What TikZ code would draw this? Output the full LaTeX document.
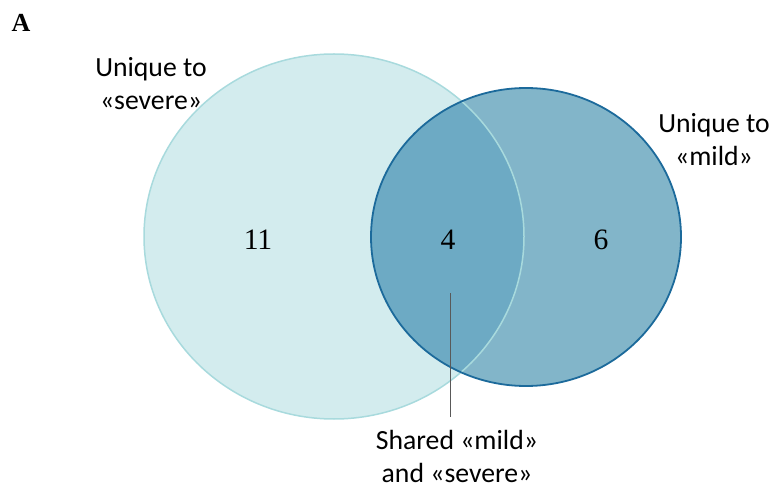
\documentclass[tikz,border=0pt]{standalone}
\usepackage{fontspec}
\setmainfont{Liberation Serif}
\newfontfamily\labelfont{Carlito}
\definecolor{leftfill}{HTML}{D3ECEE}
\definecolor{leftline}{HTML}{A8DADD}
\definecolor{rightfill}{HTML}{82B5C9}
\definecolor{overlapfill}{HTML}{6DAAC4}
\definecolor{rightline}{HTML}{1C6A9B}
\begin{document}
\begin{tikzpicture}[x=1bp,y=-1bp,
  lbl/.style={font=\labelfont\fontsize{27.7bp}{33bp}\selectfont,align=center,inner sep=0pt,text=black},
  num/.style={font=\fontsize{29.6bp}{34bp}\selectfont,inner sep=0pt,text=black},
  leader/.style={draw=black!65,line width=1bp}]
\useasboundingbox (0,0) rectangle (781,487);
% fills
\fill[leftfill] (334,236.5) ellipse [x radius=190, y radius=182.5];
\fill[rightfill] (526,237) ellipse [x radius=155, y radius=149];
\begin{scope}
  \clip (334,236.5) ellipse [x radius=190, y radius=182.5];
  \fill[overlapfill] (526,237) ellipse [x radius=155, y radius=149];
\end{scope}
% borders
\draw[leftline,line width=1.5bp] (334,236.5) ellipse [x radius=190, y radius=182.5];
\draw[rightline,line width=1.8bp] (526,237) ellipse [x radius=155, y radius=149];
% labels
\node[font=\bfseries\fontsize{26bp}{30bp}\selectfont,inner sep=0pt] (panel) at (21,23) {A};
\node[lbl] (sev) at (151,83.5) {Unique to\\«severe»};
\node[lbl] (mild) at (714,139.5) {Unique to\\«mild»};
\node[lbl] (shared) at (457,456.5) {Shared «mild»\\and «severe»};
\node[num] (n11) at (258,240) {11};
\node[num] (n4) at (448,240) {4};
\node[num] (n6) at (601,240) {6};
% leader
\coordinate (leadtop) at (450,293);
\coordinate (leadbot) at (450,417);
\draw[leader] (leadtop) -- (leadbot);
\end{tikzpicture}
\end{document}
